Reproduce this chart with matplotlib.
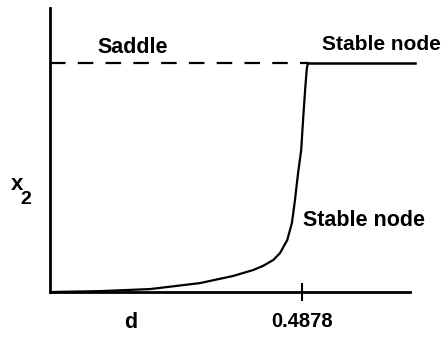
import matplotlib.pyplot as plt
import numpy as np

# branch values
d_curve = [0.0, 0.097, 0.194, 0.290, 0.354, 0.393, 0.412, 0.432, 0.445, 0.459,
           0.468, 0.474, 0.480, 0.486, 0.490, 0.494, 0.497, 0.499]
x2_curve = [0.0, 0.004, 0.013, 0.039, 0.070, 0.096, 0.114, 0.140, 0.170, 0.227,
            0.301, 0.402, 0.520, 0.620, 0.764, 0.895, 0.978, 1.0]
d_bif = 0.4878
d_max = 0.697
d_end = 0.706
x2_top = 1.0

plt.rcParams['font.family'] = ['Liberation Sans', 'DejaVu Sans']
plt.rcParams['font.weight'] = 'bold'

fig = plt.figure(figsize=(4.43, 3.38), dpi=100)
ax = fig.add_axes([0.113, 0.136, 0.813, 0.840])

ax.plot(d_curve, x2_curve, color='black', lw=1.6, solid_joinstyle='round')
ax.plot([0, d_curve[-1]], [x2_top, x2_top], color='black', lw=1.6, dashes=(7, 5.5))
ax.plot([d_curve[-1], d_end], [x2_top, x2_top], color='black', lw=1.8, clip_on=False)

ax.set_xlim(0, d_max)
ax.set_ylim(0, 1.24)
for s in ['top', 'right']:
    ax.spines[s].set_visible(False)
for s in ['left', 'bottom']:
    ax.spines[s].set_linewidth(2.0)
ax.set_yticks([])
ax.set_xticks([d_bif])
ax.set_xticklabels(['0.4878'], fontsize=14.5, fontweight='bold')
ax.tick_params(axis='x', direction='inout', length=13, width=1.5, pad=8)

ax.text(0.091, 1.066, 'Saddle', fontsize=15.5, fontweight='bold', va='center', ha='left')
fig.text(441 / 443, 1 - 44 / 338, 'Stable node', fontsize=15, fontweight='bold', va='center', ha='right')
ax.text(0.490, 0.314, 'Stable node', fontsize=15.5, fontweight='bold', va='center', ha='left')
fig.text(17 / 443, 1 - 184 / 338, 'x', fontsize=16, fontweight='bold', va='center', ha='center')
fig.text(26 / 443, 1 - 199 / 338, '2', fontsize=14, fontweight='bold', va='center', ha='center')
ax.text(0.157, -0.131, 'd', fontsize=15.5, fontweight='bold', va='center', ha='center', clip_on=False)

fig.savefig('out.png', dpi=100)
